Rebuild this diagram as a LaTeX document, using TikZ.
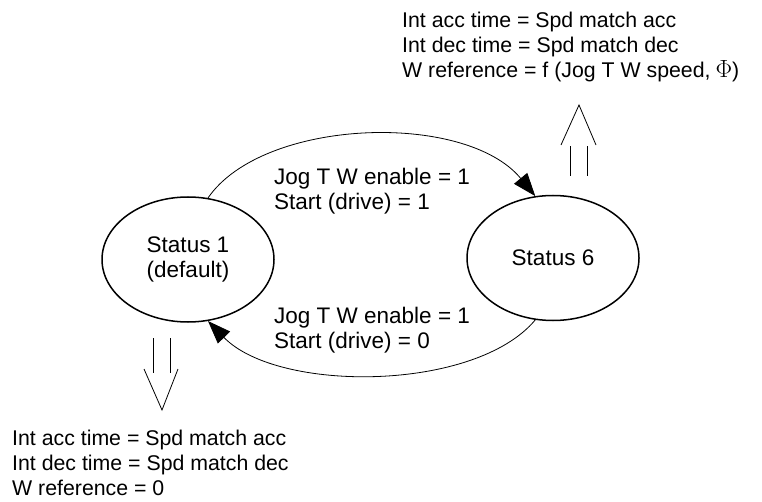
\documentclass[tikz,border=0pt]{standalone}
\usepackage{fontspec}
\setmainfont{Liberation Sans}
\usetikzlibrary{arrows.meta,positioning,shapes.geometric}

\begin{document}
\begin{tikzpicture}[x=1pt, y=-1pt,
  state/.style={draw=black, ellipse, line width=1.5pt, minimum width=172pt,
    minimum height=125pt, inner sep=0pt, align=center,
    font=\fontsize{22.5}{25}\selectfont},
  txt/.style={anchor=north west, inner sep=0pt, align=left,
    font=\fontsize{22.5}{25}\selectfont},
  outtxt/.style={txt, font=\fontsize{21.3}{25}\selectfont},
  trans/.style={-{Triangle[length=23pt, width=17pt]}, line width=0.8pt},
  hollow/.style={line width=0.8pt},
]
\useasboundingbox (0,0) rectangle (762,502);

%==================== STATUS ====================
\node[state] (s1) at (188,259.5) {Status 1\\(default)};
\node[state] (s6) at (553,258) {Status 6};

%==================== TRANSISI ====================
% Status 1 --> Status 6
\draw[trans] (s1.72) .. controls +(55,-80) and +(-70,-85) .. (s6.106);
\node[txt] (l16) at (274,168) {Jog T W enable = 1\\Start (drive) = 1};

% Status 6 --> Status 1
\draw[trans] (s6.-106) .. controls +(-60,72) and +(70,72) .. (s1.-72);
\node[txt] (l61) at (274,307) {Jog T W enable = 1\\Start (drive) = 0};

%==================== KELUARAN ====================
% Status 6 (atas)
\draw[hollow] (570,176) -- (570,146) (587,176) -- (587,146);
\draw[hollow] (561,145) -- (579,105) -- (596,145);
\node[outtxt] (o6) at (402,12)
  {Int acc time = Spd match acc\\Int dec time = Spd match dec\\
   W reference = f (Jog T W speed,\hspace{5pt}{\fontsize{24}{25}\selectfont$\Phi$})};

% Status 1 (bawah)
\draw[hollow] (153,338) -- (153,373) (170,338) -- (170,373);
\draw[hollow] (144,369) -- (162,410) -- (178,369);
\node[outtxt] (o1) at (12,430)
  {Int acc time = Spd match acc\\Int dec time = Spd match dec\\
   W reference = 0};

\end{tikzpicture}
\end{document}
